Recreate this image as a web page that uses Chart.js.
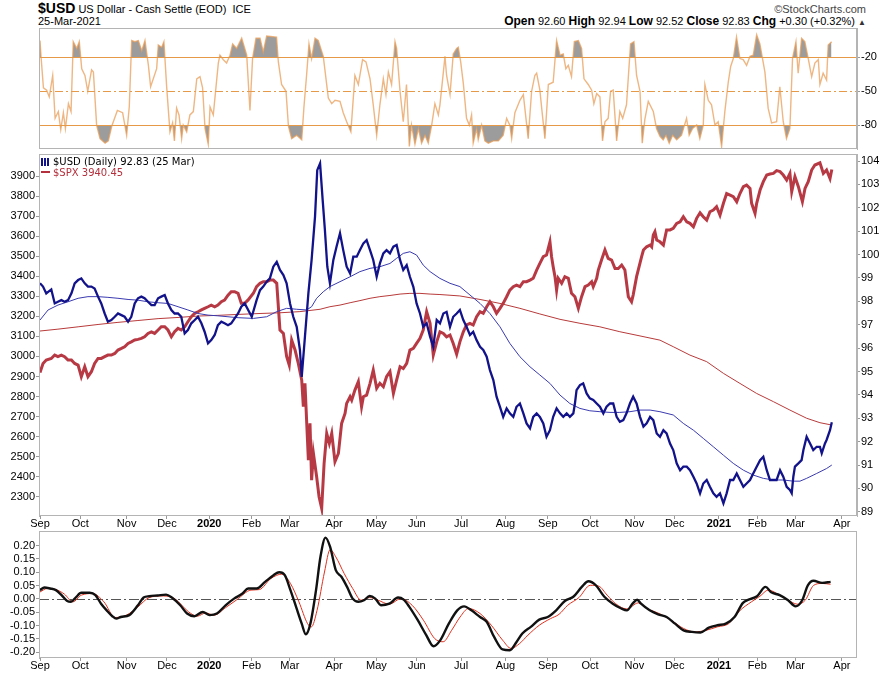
<!DOCTYPE html>
<html>
<head>
<meta charset="utf-8">
<script src="https://cdn.jsdelivr.net/npm/chart.js@4.4.1/dist/chart.umd.min.js"></script>
<style>
  body { margin: 0; background: #fff; width: 886px; height: 675px; overflow: hidden; position: relative;
         font-family: "Liberation Sans Narrow", "Liberation Sans", Arial, sans-serif; }
  canvas { position: absolute; left: 0; }
  .hdr { position: absolute; white-space: nowrap; color: #000; }
  .lg { position: absolute; left: 41px; top: 156px; font: 10px "DejaVu Sans", sans-serif; line-height: 11px; white-space: nowrap; }
  .ico { display: inline-block; width: 9px; height: 8px; margin-right: 3px; vertical-align: -1px;
         background: repeating-linear-gradient(90deg, #12128a 0 2px, transparent 2px 3px); }
  .dash { display: inline-block; width: 9px; height: 2px; margin-right: 3px; vertical-align: 3px; background: #b3303c; }
</style>
</head>
<body>
<div class="hdr" style="left:38px;top:0px;font-size:11px;line-height:17px;"><b style="font-size:14px;">$USD</b> US Dollar - Cash Settle (EOD)&nbsp; ICE</div>
<div class="hdr" style="left:38px;top:15px;font-size:11px;line-height:12px;">25-Mar-2021</div>
<div class="hdr" style="right:20px;top:3px;font-size:11px;line-height:12px;color:#444;">&copy;StockCharts.com</div>
<div class="hdr" style="right:20px;top:15px;font-size:11px;line-height:12px;"><b style="font-size:12px;">Open</b> 92.60 <b style="font-size:12px;">High</b> 92.94 <b style="font-size:12px;">Low</b> 92.52 <b style="font-size:12px;">Close</b> 92.83 <b style="font-size:12px;">Chg</b> +0.30 (+0.32%) <span style="font-size:8px;color:#333;">&#9650;</span></div>

<canvas id="top" width="886" height="128" style="top:24px;"></canvas>
<canvas id="main" width="886" height="385" style="top:150px;"></canvas>
<canvas id="osc" width="886" height="148" style="top:527px;"></canvas>

<div class="lg">
  <div><span class="ico"></span>$USD (Daily) 92.83 (25 Mar)</div>
  <div style="color:#b3303c;"><span class="dash"></span>$SPX 3940.45</div>
</div>

<script>
// x = trading-day index, 0 = 3 Sep 2019
const monthStart = [0, 20, 43, 63, 84, 105, 124, 146, 167, 187, 209, 231, 252, 273, 295, 315, 337, 356, 375, 398];
const monthLabel = ['Sep', 'Oct', 'Nov', 'Dec', '2020', 'Feb', 'Mar', 'Apr', 'May', 'Jun', 'Jul', 'Aug', 'Sep', 'Oct', 'Nov', 'Dec', '2021', 'Feb', 'Mar', 'Apr'];

const spxTicks = [2300, 2400, 2500, 2600, 2700, 2800, 2900, 3000, 3100, 3200, 3300, 3400, 3500, 3600, 3700, 3800, 3900];
const usdTicks = [89, 90, 91, 92, 93, 94, 95, 96, 97, 98, 99, 100, 101, 102, 103, 104];
const wrTicks = [-20, -50, -80];
const oscTicks = [-0.2, -0.15, -0.1, -0.05, 0, 0.05, 0.1, 0.15, 0.2];

// $USD daily close [day, value]
const usdClose = [
  [0,98.77],[1.5,98.63],[3.1,98.34],[5.6,98.51],[7.3,97.91],[8.9,97.98],[10.6,98.05],[12.2,97.98],[13.9,98.05],[15.6,98.34],
  [17.2,98.77],[18.9,98.91],[20.5,98.98],[22.2,98.77],[23.8,98.63],[25.5,98.63],[27.1,98.55],[28.8,98.20],[30.4,97.91],[32.1,97.48],
  [33.7,97.13],[35.4,97.20],[37.1,97.34],[38.7,97.48],[40.4,97.41],[42,97.34],[43.7,97.13],[45.3,97.34],[47,97.91],[48.6,98.13],
  [50.3,98.20],[51.9,98.13],[53.6,97.98],[55.3,97.84],[56.9,97.84],[58.6,98.13],[60.2,98.20],[61.9,98.27],[63.5,97.91],[65.2,97.63],
  [66.8,97.48],[68.5,97.48],[70.1,97.34],[71.8,96.63],[73.4,96.77],[75.1,97.06],[76.8,97.20],[78.4,97.34],[80.1,97.06],[81.7,96.70],
  [83.4,96.20],[85,96.34],[86.7,96.56],[88.3,96.98],[90,97.13],[91.6,97.06],[93.3,96.98],[94.9,97.06],[96.6,97.27],[98.3,97.48],
  [99.9,97.77],[101.6,97.91],
  [105.1,97.34],[107.5,98.05],[109.2,98.48],[110.8,98.63],[112.5,98.84],[114.1,98.98],[115.8,99.48],[117.5,99.69],[119.1,99.34],[120.8,99.12],
  [122.4,98.77],[124.1,97.91],[125.7,97.34],[127.4,96.91],[129,95.92],[129.9,94.77],[131.5,96.49],[133.2,98.34],[134.8,99.77],[136.5,101.62],
  [137.6,103.61],[139,103.90],[140.3,102.33],[141.4,101.05],[142.6,99.48],[143.9,98.77],[145.6,99.77],[147.2,100.34],[148.9,100.91],[150.5,100.19],
  [152.2,99.48],[153.9,99.19],[155.5,99.91],[157.2,99.91],[158.8,100.19],[160.5,100.48],[162.1,100.62],[163.8,100.19],[165.4,99.77],[167.1,99.05],
  [168.7,99.62],[170.4,100.05],[172,100.19],[173.7,100.05],[175.4,100.34],[177,100.41],[178.7,99.77],[180.3,99.34],[182,99.55],[183.6,99.05],
  [185.3,98.62],[186.9,97.91],[188.6,97.48],[190.2,96.91],[191.9,97.06],[193.6,96.49],[195.2,96.06],[196.9,97.20],
  [198.5,97.06],[200.2,97.48],[201.8,97.55],[203.5,96.91],[205.1,97.34],[206.8,97.48],[208.4,97.63],[210.1,97.20],[211.7,96.91],[213.4,96.56],
  [215,96.70],[216.7,96.34],[218.4,96.06],[220,95.92],[221.7,95.63],[223.3,95.06],[225,94.63],[226.6,93.92],[228.3,93.49],[229.9,93.06],
  [231.6,93.42],[233.2,93.21],[234.9,93.06],[236.5,93.49],[238.2,93.63],[239.9,93.21],[241.5,92.78],[243.2,92.57],[244.8,93.06],[246.5,93.21],
  [248.1,93.06],[249.8,92.78],[251.4,92.21],[253.1,92.49],[254.7,93.06],[256.4,93.42],[258.1,93.21],[259.7,93.06],[261.4,93.21],[263,93.06],
  [264.7,93.21],[265.5,93.63],[266.3,94.20],[268,94.42],[269.6,94.49],[271.3,94.06],[272.9,93.85],[274.6,93.78],[276.3,93.63],[277.9,93.49],
  [279.6,93.21],[281.2,93.49],[282.9,93.63],[284.5,93.63],[286.2,93.06],[287.8,92.85],[289.5,92.92],[291.1,93.21],[292.8,93.63],[294.4,93.92],
  [296.1,93.63],
  [297.8,93.06],[299.5,92.64],[301.1,92.78],[302.8,93.06],[304.4,92.92],[306.1,92.35],[307.7,92.21],[309.4,92.49],[311,92.35],[312.7,91.92],
  [314.3,91.64],[316,91.07],[317.7,90.78],[319.3,90.93],[321,90.93],[322.6,90.78],[324.3,90.50],[325.9,90.21],[327.6,89.79],[329.2,90.21],
  [330.9,90.36],[332.5,90.07],[334.2,89.79],[335.8,89.64],[337.5,89.79],[339.2,89.36],[340.8,89.79],[342.5,90.36],[344.1,90.36],[345.8,90.64],
  [347.4,90.36],[349.1,90.07],[350.7,90.21],[352.4,90.36],[354,90.64],[355.7,90.93],[357.4,91.21],[359,91.35],[360.7,90.78],[362.3,90.36],
  [364,90.36],[365.6,90.36],[367.3,90.78],[368.9,90.50],[370.6,90.07],[372.2,89.93],[373.1,89.79],[373.9,90.50],[374.7,90.93],[376.4,91.07],
  [378,91.21],[378.9,91.64],[380.5,92.21],[382.2,91.92],[383.8,91.64],[385.5,91.78],[387.1,91.78],[388,91.50],[389.6,91.92],[390.4,92.07],
  [392.1,92.49],[393,92.83]
];

// $USD 50-day and 200-day moving averages
const usdMa50 = [
  [0,97.20],[4,97.63],[8.9,97.84],[13.9,97.98],[18.9,98.13],[23.8,98.20],[28.8,98.20],[33.7,98.17],[38.7,98.13],[43.7,98.08],
  [48.6,98.05],[53.6,97.98],[58.6,97.94],[63.5,97.91],[68.5,97.77],[73.4,97.63],[78.4,97.48],[83.4,97.41],[88.3,97.38],[93.3,97.34],
  [98.3,97.30],[105.9,97.27],[112.5,97.34],[117.5,97.56],[122.4,97.70],[127.4,97.66],[132.3,97.63],[134.8,97.77],[137.3,98.13],[140.6,98.41],
  [143.9,98.63],[148.9,98.84],[153.9,99.05],[158.8,99.27],[163.8,99.41],[168.7,99.48],[173.7,99.62],[177,99.84],[180.3,100.05],[183.6,100.12],
  [186.9,99.98],[190.2,99.55],[193.6,99.27],[198.5,98.98],[203.5,98.77],[208.4,98.63],[213.4,98.27],[218.4,97.91],[223.3,97.48],[228.3,96.91],
  [233.2,96.20],[238.2,95.63],[243.2,95.20],[248.1,94.85],[253.1,94.49],[258.1,93.99],[263,93.63],[268,93.42],[272.9,93.32],[277.9,93.28],
  [282.9,93.25],[287.8,93.25],[292.8,93.28],[297.8,93.35],[302.8,93.35],[307.7,93.28],[314.3,93.14],[319.3,92.78],[324.3,92.49],[329.2,92.14],
  [334.2,91.78],[339.2,91.42],[344.1,91.07],[349.1,90.78],[354,90.57],[359,90.43],[364,90.36],[368.9,90.36],[373.9,90.31],[377.2,90.31],
  [380.5,90.43],[385.5,90.64],[390.4,90.85],[393,91.00]
];
const usdMa200 = [
  [0,96.73],[8.9,96.81],[18.9,96.91],[28.8,97.01],[38.7,97.10],[48.6,97.18],[58.6,97.26],[68.5,97.31],[78.4,97.37],[88.3,97.40],
  [98.3,97.44],[109.2,97.48],[119.1,97.51],[129,97.56],[139,97.66],[143.9,97.77],[148.9,97.84],[153.9,97.94],[158.8,98.03],[163.8,98.13],
  [168.7,98.20],[173.7,98.25],[178.7,98.31],[183.6,98.34],[188.6,98.34],[193.6,98.31],[198.5,98.29],[208.4,98.23],[218.4,98.08],[228.3,97.91],
  [238.2,97.70],[248.1,97.46],[258.1,97.23],[268,97.06],[277.9,96.91],[287.8,96.70],[297.8,96.52],[307.7,96.34],[314.3,96.06],[322.6,95.70],
  [330.9,95.42],[339.2,94.92],[347.4,94.49],[355.7,94.06],[364,93.71],[372.2,93.35],[380.5,93.00],[387.1,92.81],[393,92.71]
];

// $SPX close (left axis)
const spxClose = [
  [0,2920],[1.5,2965],[3.1,2982],[5.6,2990],[7.3,3007],[8.9,2999],[10.6,3007],[12.2,2999],[13.9,2982],[15.6,2982],
  [17.2,2965],[18.9,2957],[20.5,2899],[22.2,2949],[23.8,2899],[25.5,2924],[27.1,2965],[28.8,2990],[30.4,2990],[32.1,2999],
  [33.7,3007],[35.4,3007],[37.1,3015],[38.7,3032],[40.4,3040],[42,3048],[43.7,3065],[45.3,3073],[47,3082],[48.6,3085],
  [50.3,3090],[51.9,3098],[53.6,3115],[55.3,3123],[56.9,3115],[58.6,3132],[60.2,3148],[61.9,3148],[63.5,3132],[65.2,3098],
  [66.8,3123],[68.5,3140],[70.1,3132],[71.8,3148],[73.4,3173],[75.1,3198],[76.8,3215],[78.4,3223],[80.1,3232],[81.7,3240],
  [83.4,3248],[85,3256],[86.7,3248],[88.3,3256],[90,3273],[91.6,3281],[93.3,3306],[94.9,3323],[96.6,3323],[98.3,3315],
  [99.9,3265],[101.6,3265],[103.2,3281],
  [105.9,3315],[107.5,3348],[109.2,3365],[110.8,3373],[112.5,3373],[114.1,3381],[115.8,3381],[117.5,3365],[119.1,3132],[120.8,3115],
  [122.4,3000],[123.7,2957],[124.9,3082],[126.6,3032],[128.2,2965],[129.9,2882],[130.7,2749],[131.5,2866],[133.2,2483],[134,2666],
  [134.8,2383],[135.7,2516],[137.3,2400],[138.5,2300],[139.8,2242],[141,2466],[142.3,2616],[143.6,2566],[144.8,2616],[146.4,2475],
  [148.1,2516],[149.7,2666],[151.4,2716],[152.2,2766],[153.9,2799],[154.7,2782],[156.3,2832],[158,2874],[159.6,2749],[160.5,2799],
  [162.1,2807],[163.8,2866],[165.4,2932],[167.1,2841],[168.7,2866],[170.4,2849],[172,2899],[173.7,2924],[175.4,2816],[177,2882],
  [178.7,2949],[180.3,2940],[182,2965],[183.6,3032],[185.3,3040],[186.9,3065],[188.6,3090],[190.2,3132],[191.9,3223],[193.6,3165],
  [195.2,3007],[196.9,3073],
  [198.5,3123],[200.2,3115],[201.8,3098],[203.5,3107],[205.1,3065],[206.8,3012],[208.4,3073],[210.1,3123],[211.7,3157],[213.4,3165],
  [215,3157],[216.7,3198],[218.4,3223],[220,3215],[221.7,3248],[223.3,3273],[225,3248],[226.6,3215],[228.3,3240],[229.9,3265],
  [231.6,3298],[233.2,3331],[234.9,3348],[236.5,3356],[238.2,3348],[239.9,3373],[241.5,3373],[243.2,3381],[244.8,3390],[246.5,3431],
  [248.1,3464],[249.8,3498],[251.4,3506],[253.1,3572],[253.9,3498],[254.7,3448],[255.6,3398],[256.4,3331],[257.2,3390],[258.9,3365],
  [260.5,3398],[262.2,3390],[263.8,3315],[265.5,3298],[267.2,3240],[268.8,3298],[270.5,3348],[272.1,3356],[273.8,3373],[274.6,3348],
  [276.3,3390],[277.1,3431],[278.7,3481],[280.4,3531],[282,3489],[283.7,3481],[285.4,3439],[287,3439],[288.7,3456],[290.3,3431],
  [292,3298],[293.6,3273],[294.4,3306],[296.1,3398],
  [298.6,3498],[299.5,3531],[301.1,3547],[302.8,3556],[303.6,3547],[304.4,3606],[305.2,3622],[306.1,3581],[307.7,3572],[309.4,3556],
  [311,3631],[312.7,3631],[314.3,3639],[316,3664],[317.7,3672],[319.3,3697],[321,3672],[322.6,3664],[324.3,3647],[325.9,3689],
  [327.6,3717],[329.2,3697],[330.9,3680],[332.5,3722],[334.2,3730],[335.8,3747],[337.5,3705],[339.2,3764],[340.8,3813],[342.5,3805],
  [344.1,3797],[345.8,3772],[347.4,3813],[349.1,3847],[350.7,3855],[352.4,3838],[353.2,3764],[354.9,3714],[355.7,3764],[357.4,3830],
  [359,3872],[360.7,3905],[362.3,3910],[364,3913],[365.6,3927],[367.3,3922],[368.9,3905],[370.6,3880],[372.2,3913],[373.1,3822],
  [374.7,3897],[376.4,3847],[378.4,3772],[379.7,3838],[381.3,3872],[383,3930],[384.6,3955],[387.1,3966],[388.8,3913],[390.4,3930],
  [392.1,3888],[393,3933]
];

// top panel oscillator (0 .. -100)
const wr = [
  [0,-5],[0.5,-19],[1.7,-47],[3.3,-49],[4.6,-55],[6.3,-36],[7.5,-74],[9.1,-68],[10.3,-84],[11.6,-69],
  [12.6,-83],[14.1,-61],[15.4,-68],[16.5,-6],[18.2,-12],[19.5,-6],[20.7,-30],[22.3,-36],[23.7,-50],[25.6,-31],
  [26.5,-33],[28.1,-80],[29.8,-92],[32.3,-96],[33.9,-94],[35.6,-81],[38.4,-67],[41,-69],[43,-89],[44.3,-64],
  [45.5,-5],[47.1,-6],[48.8,-5],[50.5,-14],[52.1,-5],[53.8,-27],[54.9,-46],[57.9,-30],[58.7,-9],[60.4,-11],
  [61.5,-6],[62.9,-47],[64.5,-86],[65.8,-78],[66.7,-94],[67.8,-65],[69,-71],[70.3,-92],[71.1,-80],[72.8,-86],
  [74.4,-71],[76.1,-68],[77.8,-39],[79.4,-37],[80.7,-47],[81.9,-83],[83.5,-97],[84.4,-64],[86,-71],[88.5,-25],
  [89.3,-18],[91,-22],[92.6,-25],[94.3,-18],[95.6,-8],[97.6,-12],[100.1,-3],[102.6,-18],[104.2,-67],[105.5,-21],
  [107.2,-3],[109.2,-3],[110.8,-15],[112.5,-1],[117.4,-2],[118.3,-24],[119.9,-44],[122.1,-50],[123.3,-81],[124.9,-92],
  [127.4,-89],[129.9,-93],[131,-64],[132.3,-36],[133.5,-8],[134.8,-21],[136.5,-3],[138.1,-5],[140.6,-19],[143.1,-56],
  [144.8,-61],[146.4,-58],[148.9,-59],[150.5,-69],[152.2,-77],[154.3,-86],[156.3,-36],[158,-44],[160.1,-22],[161.8,-24],
  [163.8,-39],[165.4,-62],[167.1,-89],[168.7,-62],[170.4,-39],[171.7,-53],[172.9,-33],[174.5,-44],[176.2,-6],[177,-12],
  [178.7,-50],[180.3,-77],[181.9,-44],[183.3,-99],[184.4,-80],[186.1,-97],[187.8,-83],[189.4,-96],[191.1,-89],[192.7,-96],
  [194.4,-80],[196,-61],[197.7,-71],[198.5,-62],[200.2,-33],[201,-19],[201.8,-36],[203.5,-53],[205.1,-17],[206.8,-12],
  [207.6,-11],[208.8,-24],[210.1,-43],[211.7,-74],[213.1,-80],[214.2,-71],[215,-96],[216.7,-83],[217.5,-93],[219.2,-80],
  [220.8,-94],[222.5,-96],[225,-94],[227.5,-94],[229.9,-89],[231.6,-74],[233.2,-80],[234.1,-92],[235.7,-69],[238.2,-58],
  [239.9,-53],[242.3,-92],[244,-50],[245.6,-36],[246.5,-34],[248.1,-49],[249,-65],[250.6,-92],[252.3,-44],[254.7,-42],
  [256.4,-5],[258.1,-18],[259.7,-17],[261,-30],[262.2,-27],[263.8,-37],[265.2,-6],[267.2,-5],[268.8,-12],[270,-39],
  [272.1,-44],[273.8,-49],[274.9,-61],[276.3,-52],[277.9,-55],[279.2,-94],[280.4,-77],[282,-74],[283.2,-50],[284.5,-49],
  [286.2,-94],[287.8,-68],[289.2,-74],[291.1,-62],[293.1,-8],[294.8,-6],[296.1,-36],[297.8,-50],[298.9,-96],[300.2,-75],
  [301.9,-59],[304.4,-68],[306,-83],[307.7,-90],[309.3,-93],[310.7,-89],[312.3,-96],[314,-89],[316,-93],[318.4,-89],
  [320.9,-74],[322.2,-89],[323.9,-83],[325.9,-80],[327.5,-92],[329.2,-80],[330,-44],[331.7,-58],[333.3,-62],[335,-80],
  [336.6,-77],[338.3,-99],[339.9,-68],[341.6,-42],[342.8,-28],[344.1,-21],[345.7,-2],[347.4,-21],[349,-22],[350.7,-27],
  [352.4,-19],[354,-18],[355.7,0],[357.3,-8],[359.8,-33],[361.4,-65],[363.1,-78],[365.6,-77],[367.2,-46],[368.9,-77],
  [370.5,-92],[372.2,-83],[373.5,-21],[375.2,-6],[376.3,-34],[378,-3],[379.6,-6],[381.3,-21],[383,-37],[384.6,-25],
  [386.3,-22],[387.1,-44],[388.7,-34],[390.4,-40],[391.2,-9],[392.9,-6]
];

// bottom panel oscillator and its signal line
const oscLine = [
  [0,0.033],[2.2,0.043],[5.1,0.039],[7.9,0.033],[10.7,0.014],[13.5,-0.008],[15.4,-0.011],[17.7,0.005],[20.5,0.023],[24.7,0.023],
  [27.5,0.014],[30.3,-0.018],[33.1,-0.043],[35.9,-0.065],[37.9,-0.074],[40.1,-0.068],[44.3,-0.061],[48.6,-0.024],[51.4,0.005],[54.2,0.010],
  [58.4,0.013],[62.6,0.016],[65.4,0.005],[69.6,-0.024],[73,-0.055],[76.6,-0.065],[80.8,-0.049],[84.2,-0.061],[87.8,-0.055],[92.1,-0.024],
  [96.3,0.001],[100.5,0.020],[103.3,0.039],[107.5,0.039],[111.7,0.064],[115.9,0.089],[118.7,0.100],[121.5,0.089],[124.3,0.033],[127.1,-0.030],
  [129.9,-0.093],[131.9,-0.133],[134.2,-0.093],[137,0.033],[139.2,0.158],[141.7,0.230],[144,0.195],[146.8,0.108],[149.6,0.083],[152.4,0.045],
  [155.2,0.001],[158,-0.011],[160.8,-0.005],[163.6,0.011],[166.4,0.001],[169.2,-0.024],[173.4,-0.018],[177.7,0.005],[180.5,-0.003],[183.3,-0.030],
  [187.5,-0.080],[191.7,-0.136],[195.3,-0.178],[198.7,-0.155],[202.9,-0.093],[207.1,-0.043],[210.5,-0.028],[214.1,-0.043],[218.4,-0.068],[221.7,-0.086],
  [225.4,-0.143],[229.6,-0.190],[233.2,-0.193],[236.6,-0.161],[239.4,-0.130],[243.6,-0.105],[247.8,-0.078],[252,-0.068],[256.2,-0.043],[260.5,-0.008],
  [264.7,0.008],[268.9,0.045],[272.2,0.066],[275.9,0.051],[280.1,0.008],[284.3,-0.018],[288.5,-0.036],[291.3,-0.043],[294.1,-0.018],[296.4,-0.003],
  [298.3,-0.018],[302.6,-0.043],[306.8,-0.058],[311,-0.068],[315.2,-0.093],[319.4,-0.118],[323.6,-0.124],[327.8,-0.126],[332,-0.108],[336.2,-0.099],
  [340.4,-0.093],[344.7,-0.068],[348.9,-0.015],[351.7,-0.003],[355.9,0.010],[360.1,0.045],[362.9,0.025],[367.1,0.014],[371.3,-0.005],[375,-0.028],
  [378.3,-0.005],[381.1,0.051],[383.9,0.068],[388.2,0.060],[392.4,0.064]
];
const oscSignal = [
  [0,0.026],[3.6,0.039],[7.9,0.035],[12.1,0.018],[16.3,-0.011],[20.5,0.014],[26.1,0.020],[31.7,-0.011],[37.3,-0.070],[42.9,-0.061],
  [48.6,-0.030],[54.2,0.005],[61.2,0.011],[66.8,0.001],[73.8,-0.049],[78,-0.065],[82.2,-0.053],[86.4,-0.061],[92.1,-0.033],[97.7,-0.003],
  [104.7,0.033],[108.9,0.035],[114.5,0.076],[120.1,0.093],[124.3,0.058],[128.5,-0.011],[132.8,-0.093],[134.7,-0.105],[137.5,-0.043],[141.2,0.101],
  [144,0.185],[146.8,0.158],[151,0.095],[155.2,0.039],[159.4,-0.005],[163.6,0.005],[167.8,-0.005],[173.4,-0.020],[179.1,0.001],[184.7,-0.024],
  [190.3,-0.080],[195.9,-0.149],[200.1,-0.161],[204.3,-0.118],[208.5,-0.068],[212.7,-0.036],[218.4,-0.055],[224,-0.099],[229.6,-0.155],[233.8,-0.186],
  [238,-0.168],[242.2,-0.136],[247.8,-0.099],[253.4,-0.074],[257.6,-0.058],[261.9,-0.024],[267.5,0.005],[273.1,0.051],[277.3,0.048],[281.5,0.014],
  [285.7,-0.018],[291.3,-0.038],[296.9,-0.015],[301.2,-0.036],[308.2,-0.058],[313.8,-0.083],[319.4,-0.111],[325,-0.124],[330.6,-0.118],[336.2,-0.105],
  [341.8,-0.093],[347.5,-0.043],[353.1,-0.011],[357.3,0.010],[361.5,0.033],[367.1,0.014],[372.7,-0.011],[376.1,-0.020],[379.8,-0.005],[384,0.051],
  [388.2,0.058],[392.4,0.055]
];

Chart.defaults.font.family = '"Liberation Sans", Arial, sans-serif';
Chart.defaults.font.size = 11;
Chart.defaults.color = '#000';
Chart.defaults.animation = false;

// horizontal reference lines and the grey frame round the plot area
function drawRefLines(chart, lines) {
  const { ctx, chartArea: a, scales } = chart;
  ctx.save();
  lines.forEach(l => {
    const y = Math.round(scales[l.axis].getPixelForValue(l.value)) + 0.5;
    ctx.strokeStyle = l.color;
    ctx.lineWidth = 1;
    ctx.setLineDash(l.dash || []);
    ctx.beginPath();
    ctx.moveTo(a.left, y);
    ctx.lineTo(a.right, y);
    ctx.stroke();
  });
  ctx.restore();
}

const framePlugin = {
  id: 'frame',
  beforeDatasetsDraw(chart, args, opts) {
    drawRefLines(chart, (opts.lines || []).filter(l => !l.onTop));
  },
  afterDatasetsDraw(chart, args, opts) {
    drawRefLines(chart, (opts.lines || []).filter(l => l.onTop));
  },
  afterDraw(chart) {
    const { ctx, chartArea: a } = chart;
    ctx.save();
    ctx.strokeStyle = '#b4b4b4';
    ctx.lineWidth = 1;
    ctx.strokeRect(Math.round(a.left) + 0.5, Math.round(a.top) + 0.5,
                   Math.round(a.right - a.left) - 1, Math.round(a.bottom - a.top) - 1);
    ctx.restore();
  }
};

function xAxis(height) {
  return {
    type: 'linear', min: -0.5, max: 405.5, display: height > 0,
    afterBuildTicks: s => { s.ticks = monthStart.map(v => ({ value: v })); },
    afterFit: s => { s.height = height; s.paddingLeft = 0; s.paddingRight = 0; },
    ticks: {
      autoSkip: false, maxRotation: 0, padding: -2,
      callback: (v, i) => monthLabel[i],
      font: c => ({ size: 11, weight: /^20/.test(monthLabel[c.index] || '') ? 'bold' : 'normal' })
    },
    grid: { drawOnChartArea: false, tickLength: 3, color: '#999' },
    border: { display: false }
  };
}

function yAxis(pos, min, max, ticks, width, fmt) {
  return {
    position: pos, min: min, max: max,
    afterBuildTicks: s => { s.ticks = ticks.map(v => ({ value: v })); },
    afterFit: s => { s.width = width; s.paddingTop = 0; s.paddingBottom = 0; },
    ticks: { autoSkip: false, padding: 1, callback: fmt || (v => v) },
    grid: { drawOnChartArea: false, tickLength: 3, color: '#999' },
    border: { color: '#b4b4b4' }
  };
}

const line = (data, color, width, axis, extra) => Object.assign({
  data: data, borderColor: color, borderWidth: width, pointRadius: 0, tension: 0, yAxisID: axis, fill: false
}, extra || {});

// top panel
new Chart(document.getElementById('top'), {
  type: 'line',
  data: {
    datasets: [
      line(wr, 'rgba(232,158,88,0.75)', 1.4, 'y', { fill: { target: { value: -20 }, above: '#9c9c9c', below: 'rgba(0,0,0,0)' } }),
      line(wr, 'rgba(0,0,0,0)', 0, 'y', { fill: { target: { value: -80 }, above: 'rgba(0,0,0,0)', below: '#9c9c9c' } })
    ]
  },
  options: {
    responsive: false,
    layout: { padding: { left: 39, top: 4, bottom: 3, right: 0 } },
    plugins: {
      legend: { display: false }, tooltip: { enabled: false },
      frame: { lines: [
        { axis: 'y', value: -20, color: '#e69a48', onTop: true },
        { axis: 'y', value: -80, color: '#e69a48', onTop: true },
        { axis: 'y', value: -50, color: '#e69a48', dash: [8, 3, 2, 3] }
      ] }
    },
    scales: {
      x: xAxis(0),
      y: yAxis('right', -101.2, 6.1, wrTicks, 29)
    }
  },
  plugins: [framePlugin]
});

// main panel
new Chart(document.getElementById('main'), {
  type: 'line',
  data: {
    datasets: [
      line(usdClose, '#12128a', 2.3, 'yUsd'),
      line(usdMa50, '#3a3ab0', 1, 'yUsd'),
      line(usdMa200, '#b83a3a', 1, 'yUsd'),
      line(spxClose, 'rgba(176,40,52,0.92)', 3, 'ySpx')
    ]
  },
  options: {
    responsive: false,
    layout: { padding: { left: 0, top: 4, bottom: 0, right: 0 } },
    plugins: { legend: { display: false }, tooltip: { enabled: false }, frame: {} },
    scales: {
      x: xAxis(19),
      ySpx: yAxis('left', 2204, 4010, spxTicks, 39),
      yUsd: yAxis('right', 88.82, 104.3, usdTicks, 29)
    }
  },
  plugins: [framePlugin]
});

// bottom panel
new Chart(document.getElementById('osc'), {
  type: 'line',
  data: {
    datasets: [
      line(oscLine, '#111', 2.4, 'y', { cubicInterpolationMode: 'monotone' }),
      line(oscSignal, '#e0301e', 1, 'y', { cubicInterpolationMode: 'monotone' })
    ]
  },
  options: {
    responsive: false,
    layout: { padding: { left: 0, top: 4, bottom: 0, right: 29 } },
    plugins: {
      legend: { display: false }, tooltip: { enabled: false },
      frame: { lines: [{ axis: 'y', value: 0, color: '#555', dash: [10, 3, 2, 3] }] }
    },
    scales: {
      x: xAxis(17),
      y: yAxis('left', -0.222, 0.255, oscTicks, 39, v => (Math.abs(v) < 1e-9 ? 0 : v).toFixed(2))
    }
  },
  plugins: [framePlugin]
});
</script>
</body>
</html>
